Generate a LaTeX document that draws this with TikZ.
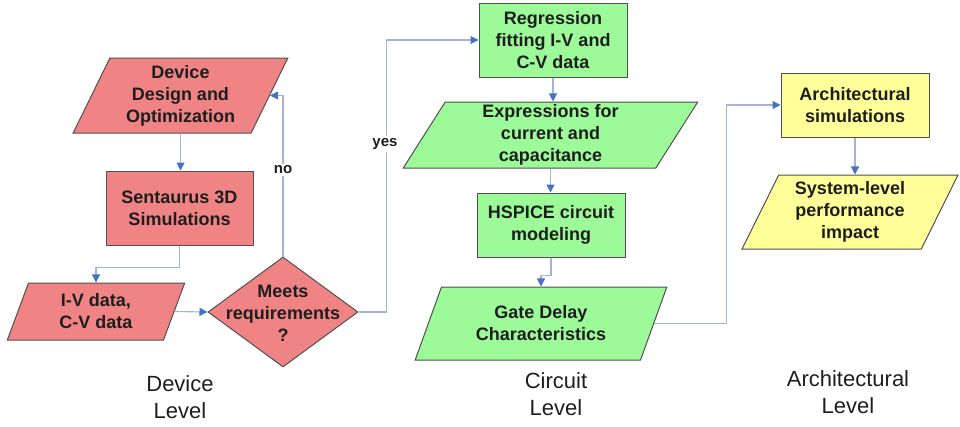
\documentclass[tikz,border=0pt]{standalone}
\usepackage{fontspec}
\setmainfont{Liberation Sans}
\usetikzlibrary{shapes.geometric,arrows.meta}
\definecolor{pinkfill}{HTML}{F08484}
\definecolor{greenfill}{HTML}{9CFA98}
\definecolor{yellowfill}{HTML}{FFFF99}
\definecolor{edgegray}{HTML}{505050}
\definecolor{linec}{HTML}{A4B4D4}
\definecolor{tipc}{HTML}{4472C4}
\definecolor{txtc}{HTML}{1E1E1E}
\tikzset{
  boxtxt/.style={font=\fontsize{18}{22}\selectfont\bfseries, text=txtc, align=center},
  rectbox/.style={boxtxt, draw=edgegray, line width=1pt, rectangle, inner sep=0pt},
  parbox/.style={boxtxt, draw=edgegray, line width=1pt, trapezium, trapezium stretches=true, inner sep=0pt},
  pinkc/.style={fill=pinkfill},
  greenc/.style={fill=greenfill},
  yellowc/.style={fill=yellowfill},
  conn/.style={draw=linec, line width=1.1pt, -{Triangle[length=8pt,width=8pt,color=tipc]}},
  lbl/.style={font=\fontsize{15}{18}\selectfont\bfseries, text=txtc, fill=white, inner sep=2pt},
  levellbl/.style={font=\fontsize{22}{27}\selectfont, text=txtc, align=center}
}
\begin{document}
\begin{tikzpicture}[x=1pt,y=-1pt]
\useasboundingbox (0,0) rectangle (960,426);
% Device level
\node[parbox,pinkc,trapezium left angle=65,trapezium right angle=115,minimum width=215,minimum height=75] (dd) at (180.5,95.5) {Device\\Design and\\Optimization};
\node[rectbox,pinkc,minimum width=147,minimum height=74] (sent) at (179.5,208) {Sentaurus 3D\\Simulations};
\node[parbox,pinkc,trapezium left angle=72,trapezium right angle=108,minimum width=178,minimum height=57] (iv) at (96,311.5) {I-V data,\\C-V data};
\node[diamond,draw=edgegray,line width=1pt,pinkc,minimum width=150,minimum height=110,inner sep=0pt] (dia) at (283,312) {};
\node[boxtxt] (diat) at (283,313) {Meets\\requirements\\?};
% Circuit level
\node[rectbox,greenc,minimum width=148,minimum height=74] (reg) at (553,40) {Regression\\fitting I-V and\\C-V data};
\node[parbox,greenc,trapezium left angle=66,trapezium right angle=114,minimum width=295,minimum height=66] (expr) at (550.5,135) {Expressions for\\current and\\capacitance};
\node[rectbox,greenc,minimum width=148,minimum height=64] (hsp) at (551,225) {HSPICE circuit\\modeling};
\node[parbox,greenc,trapezium left angle=64,trapezium right angle=116,minimum width=252,minimum height=73] (gate) at (541,323.5) {Gate Delay\\Characteristics};
% Architectural level
\node[rectbox,yellowc,minimum width=148,minimum height=64] (arch) at (855,105) {Architectural\\simulations};
\node[parbox,yellowc,trapezium left angle=65,trapezium right angle=115,minimum width=216,minimum height=74] (sys) at (850,212) {System-level\\performance\\impact};
% connectors
\draw[conn] (dd.south) -- (dd.south |- sent.north);
\draw[conn] (sent.south) -- ++(0,22) -| (iv.north);
\draw[conn] (iv.east) -- (dia.west);
\draw[conn] (dia.north) |- (dd.east);
\draw[conn] (dia.east) -- ++(28,0) |- (reg.west);
\draw[conn] (reg.south) -- (reg.south |- expr.north);
\draw[conn] (expr.south) -- (expr.south |- hsp.north);
\draw[conn] (hsp.south) -- ++(0,18) -| (gate.north);
\draw[conn] (gate.east) -- ++(72,0) |- (arch.west);
\draw[conn] (arch.south) -- (arch.south |- sys.north);
\node[lbl] (no) at (283,170) {no};
\node[lbl] (yes) at (385,144) {yes};
% level labels
\node[levellbl] (devl) at (180,397) {Device\\Level};
\node[levellbl] (cirl) at (556,394) {Circuit\\Level};
\node[levellbl] (arcl) at (848,392) {Architectural\\Level};
\end{tikzpicture}
\end{document}
